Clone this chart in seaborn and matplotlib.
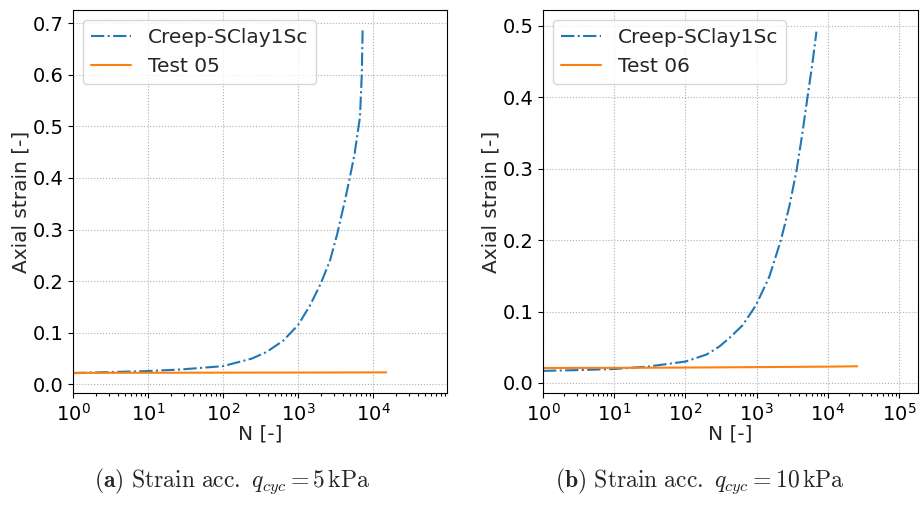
import pandas as pd
import matplotlib
matplotlib.use('Agg')
import matplotlib.pyplot as plt
from matplotlib.ticker import LogLocator, NullFormatter
import seaborn as sns

# panel (a): q_cyc = 5 kPa
n_model_a = [1, 3, 10, 27, 100, 241, 382, 637, 1000, 1445, 2005, 2673, 3343, 4236, 4930, 5690, 6710, 7100, 7280]
eps_model_a = [0.022, 0.024, 0.026, 0.029, 0.0355, 0.050, 0.063, 0.085, 0.115, 0.153, 0.195, 0.240, 0.292, 0.357, 0.402, 0.447, 0.518, 0.602, 0.689]
n_test_a = [1, 10, 100, 1000, 5000, 15000]
eps_test_a = [0.0225, 0.0227, 0.0229, 0.0231, 0.0233, 0.0235]

# panel (b): q_cyc = 10 kPa
n_model_b = [1, 3, 10, 30, 100, 200, 300, 416, 640, 984, 1515, 2200, 2885, 3660, 4415, 5130, 6110, 6950]
eps_model_b = [0.017, 0.018, 0.0196, 0.023, 0.030, 0.040, 0.051, 0.063, 0.081, 0.109, 0.149, 0.200, 0.247, 0.298, 0.350, 0.396, 0.448, 0.492]
n_test_b = [1, 10, 100, 1000, 10000, 26000]
eps_test_b = [0.021, 0.0212, 0.0216, 0.0222, 0.0229, 0.0234]

model_name = 'Creep-SClay1Sc'
tests = ['Test 05', 'Test 06']
captions = [r'$\mathbf{(a)}$ $\mathrm{Strain\ acc.}\ q_{cyc} = 5\,\mathrm{kPa}$',
            r'$\mathbf{(b)}$ $\mathrm{Strain\ acc.}\ q_{cyc} = 10\,\mathrm{kPa}$']

sns.set_style('ticks')
plt.rcParams['font.family'] = ['DejaVu Sans']
plt.rcParams['mathtext.fontset'] = 'cm'


def make_df(nm, em, nt, et, test):
    a = pd.DataFrame({'N': nm, 'eps': em, 'series': model_name})
    b = pd.DataFrame({'N': nt, 'eps': et, 'series': test})
    return pd.concat([a, b], ignore_index=True)


panels = [
    (make_df(n_model_a, eps_model_a, n_test_a, eps_test_a, tests[0]), tests[0], (1, 9.7e4), (-0.0165, 0.725)),
    (make_df(n_model_b, eps_model_b, n_test_b, eps_test_b, tests[1]), tests[1], (1, 1.85e5), (-0.014, 0.522)),
]

fig = plt.figure(figsize=(9.21, 5.05), dpi=100)
positions = [[0.0793, 0.2218, 0.406, 0.758], [0.5896, 0.2218, 0.407, 0.758]]
cap_x = [0.252, 0.760]

for i, (df, test, xl, yl) in enumerate(panels):
    ax = fig.add_axes(positions[i])
    sns.lineplot(data=df, x='N', y='eps', hue='series', style='series',
                 palette={model_name: '#1f77b4', test: '#ff7f0e'},
                 dashes={model_name: (6.4, 1.6, 1.0, 1.6), test: ''},
                 estimator=None, sort=True, linewidth=1.5, ax=ax)
    ax.set_xscale('log')
    ax.set_xlim(*xl)
    ax.set_ylim(*yl)
    ax.xaxis.set_major_locator(LogLocator(base=10, numticks=20))
    ax.xaxis.set_minor_locator(LogLocator(base=10, subs=range(2, 10), numticks=100))
    ax.xaxis.set_minor_formatter(NullFormatter())
    ax.grid(True, which='major', linestyle=':', color='#b0b0b0', linewidth=0.8)
    ax.tick_params(which='major', labelsize=14, colors='black', direction='out', length=3.5, width=0.8)
    ax.tick_params(which='minor', direction='out', length=2.5, width=0.8, colors='black')
    for s in ax.spines.values():
        s.set_color('black')
        s.set_linewidth(0.8)
    ax.set_xlabel('N [-]', fontsize=14.5, labelpad=0)
    ax.set_ylabel('Axial strain [-]', fontsize=14.5, labelpad=1)
    leg = ax.legend(loc='upper left', fontsize=14.5, frameon=True, title=None)
    leg.get_frame().set_edgecolor('#cccccc')
    fig.text(cap_x[i], 0.048, captions[i], ha='center', va='center', fontsize=17)

fig.savefig('out.png', dpi=100)
